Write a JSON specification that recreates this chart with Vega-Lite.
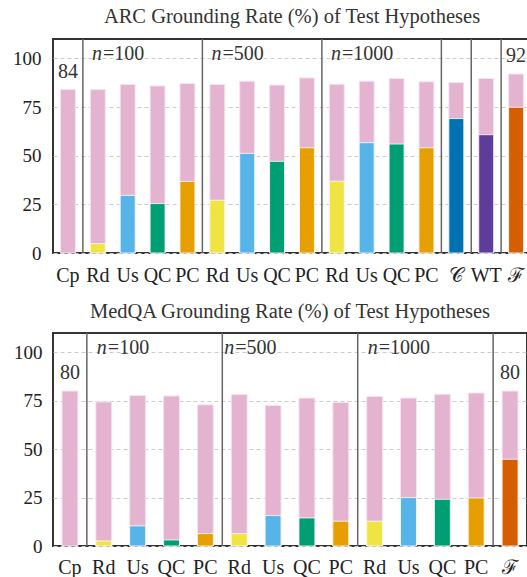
{
  "$schema": "https://vega.github.io/schema/vega-lite/v6.json",
  "padding": {"left": 8, "top": 5, "right": 0, "bottom": 4},
  "spacing": 14,
  "config": {
    "font": "Liberation Serif",
    "view": {"stroke": "#333333", "strokeWidth": 2},
    "title": {"fontSize": 20.5, "fontWeight": "normal", "color": "#333333", "offset": 11, "anchor": "middle"},
    "axis": {"labelFont": "Liberation Serif", "labelColor": "#222222", "domain": false, "ticks": false}
  },
  "vconcat": [
    {
      "title": "ARC Grounding Rate (%) of Test Hypotheses",
      "width": 478,
      "height": 214,
      "data": {"values": [
        {"id": "01|Cp", "m": "Cp", "total": 84, "grounded": null},
        {"id": "02|Rd", "m": "Rd", "total": 84, "grounded": 4.8},
        {"id": "03|Us", "m": "Us", "total": 86.6, "grounded": 29.6},
        {"id": "04|QC", "m": "QC", "total": 85.9, "grounded": 25.4},
        {"id": "05|PC", "m": "PC", "total": 87.1, "grounded": 36.8},
        {"id": "06|Rd", "m": "Rd", "total": 86.6, "grounded": 27.1},
        {"id": "07|Us", "m": "Us", "total": 88.3, "grounded": 51.2},
        {"id": "08|QC", "m": "QC", "total": 86.3, "grounded": 47.1},
        {"id": "09|PC", "m": "PC", "total": 90, "grounded": 54.1},
        {"id": "10|Rd", "m": "Rd", "total": 86.8, "grounded": 36.9},
        {"id": "11|Us", "m": "Us", "total": 88.3, "grounded": 56.7},
        {"id": "12|QC", "m": "QC", "total": 89.7, "grounded": 56},
        {"id": "13|PC", "m": "PC", "total": 88, "grounded": 54.1},
        {"id": "14|𝒞", "m": "C", "total": 87.6, "grounded": 69.1},
        {"id": "15|WT", "m": "WT", "total": 89.7, "grounded": 60.8},
        {"id": "16|ℱ", "m": "F", "total": 92, "grounded": 74.9}
      ]},
      "layer": [
        {
          "mark": {"type": "bar", "color": "#e3b3d0", "stroke": "#f7e4ef", "strokeWidth": 1, "width": {"band": 0.5}},
          "encoding": {
            "x": {"field": "id", "type": "ordinal", "scale": {"paddingInner": 0, "paddingOuter": 0},
                  "axis": {"title": null, "labelAngle": 0, "labelExpr": "split(datum.value,'|')[1]", "labelFontSize": 20, "labelPadding": 12}},
            "y": {"field": "total", "type": "quantitative", "scale": {"domain": [0, 110], "nice": false},
                  "axis": {"title": null, "values": [0, 25, 50, 75, 100], "grid": true, "gridDash": [4, 3], "gridColor": "#cccccc",
                           "labelFontSize": 19, "labelPadding": 12, "minExtent": 40, "maxExtent": 40}}
          }
        },
        {
          "transform": [{"filter": "datum.grounded != null"}],
          "mark": {"type": "bar", "stroke": "#ffffff", "strokeWidth": 1, "strokeOpacity": 0.8, "width": {"band": 0.5}},
          "encoding": {
            "x": {"field": "id", "type": "ordinal"},
            "y": {"field": "grounded", "type": "quantitative"},
            "color": {"field": "m", "type": "nominal", "legend": null,
                      "scale": {"domain": ["Rd", "Us", "QC", "PC", "C", "WT", "F"],
                                "range": ["#f0e442", "#56b4e9", "#009e73", "#e69f00", "#0072b2", "#5e3c99", "#d55e00"]}}
          }
        },
        {
          "transform": [{"filter": "datum.m == 'Cp' || datum.m == 'F'"}],
          "mark": {"type": "text", "fontSize": 20, "color": "#333333", "baseline": "alphabetic", "dy": -12},
          "encoding": {
            "x": {"field": "id", "type": "ordinal"},
            "y": {"field": "total", "type": "quantitative"},
            "text": {"field": "total", "type": "quantitative", "format": "d"}
          }
        },
        {
          "data": {"values": [{"id": "02|Rd"}, {"id": "06|Rd"}, {"id": "10|Rd"}, {"id": "14|𝒞"}, {"id": "15|WT"}, {"id": "16|ℱ"}]},
          "mark": {"type": "rule", "color": "#666666", "strokeWidth": 1.5},
          "encoding": {"x": {"field": "id", "type": "ordinal", "bandPosition": 0}}
        },
        {
          "data": {"values": [{"id": "02|Rd", "n": "=100"}, {"id": "06|Rd", "n": "=500"}, {"id": "10|Rd", "n": "=1000"}]},
          "layer": [
            {
              "mark": {"type": "text", "fontSize": 20, "fontStyle": "italic", "color": "#333333", "align": "left", "baseline": "middle", "dx": 9},
              "encoding": {"x": {"field": "id", "type": "ordinal", "bandPosition": 0}, "y": {"datum": 102.5}, "text": {"value": "n"}}
            },
            {
              "mark": {"type": "text", "fontSize": 20, "color": "#333333", "align": "left", "baseline": "middle", "dx": 20},
              "encoding": {"x": {"field": "id", "type": "ordinal", "bandPosition": 0}, "y": {"datum": 102.5}, "text": {"field": "n"}}
            }
          ]
        }
      ]
    },
    {
      "title": {"text": "MedQA Grounding Rate (%) of Test Hypotheses", "offset": 10},
      "width": 474,
      "height": 213,
      "data": {"values": [
        {"id": "01|Cp", "m": "Cp", "total": 80, "grounded": null},
        {"id": "02|Rd", "m": "Rd", "total": 74.4, "grounded": 2.6},
        {"id": "03|Us", "m": "Us", "total": 77.7, "grounded": 10.4},
        {"id": "04|QC", "m": "QC", "total": 77.5, "grounded": 3.1},
        {"id": "05|PC", "m": "PC", "total": 72.9, "grounded": 6.4},
        {"id": "06|Rd", "m": "Rd", "total": 78.2, "grounded": 6.4},
        {"id": "07|Us", "m": "Us", "total": 72.6, "grounded": 15.7},
        {"id": "08|QC", "m": "QC", "total": 76.4, "grounded": 14.5},
        {"id": "09|PC", "m": "PC", "total": 74.1, "grounded": 12.8},
        {"id": "10|Rd", "m": "Rd", "total": 77.2, "grounded": 12.8},
        {"id": "11|Us", "m": "Us", "total": 76.4, "grounded": 25},
        {"id": "12|QC", "m": "QC", "total": 78.4, "grounded": 24.1},
        {"id": "13|PC", "m": "PC", "total": 79, "grounded": 24.8},
        {"id": "14|ℱ", "m": "F", "total": 80, "grounded": 44.8}
      ]},
      "layer": [
        {
          "mark": {"type": "bar", "color": "#e3b3d0", "stroke": "#f7e4ef", "strokeWidth": 1, "width": {"band": 0.47}},
          "encoding": {
            "x": {"field": "id", "type": "ordinal", "scale": {"paddingInner": 0, "paddingOuter": 0},
                  "axis": {"title": null, "labelAngle": 0, "labelExpr": "split(datum.value,'|')[1]", "labelFontSize": 20, "labelPadding": 11}},
            "y": {"field": "total", "type": "quantitative", "scale": {"domain": [0, 110], "nice": false},
                  "axis": {"title": null, "values": [0, 25, 50, 75, 100], "grid": true, "gridDash": [4, 3], "gridColor": "#cccccc",
                           "labelFontSize": 19, "labelPadding": 11, "minExtent": 44, "maxExtent": 44}}
          }
        },
        {
          "transform": [{"filter": "datum.grounded != null"}],
          "mark": {"type": "bar", "stroke": "#ffffff", "strokeWidth": 1, "strokeOpacity": 0.8, "width": {"band": 0.47}},
          "encoding": {
            "x": {"field": "id", "type": "ordinal"},
            "y": {"field": "grounded", "type": "quantitative"},
            "color": {"field": "m", "type": "nominal", "legend": null,
                      "scale": {"domain": ["Rd", "Us", "QC", "PC", "F"],
                                "range": ["#f0e442", "#56b4e9", "#009e73", "#e69f00", "#d55e00"]}}
          }
        },
        {
          "transform": [{"filter": "datum.m == 'Cp' || datum.m == 'F'"}],
          "mark": {"type": "text", "fontSize": 20, "color": "#333333", "baseline": "alphabetic", "dy": -12},
          "encoding": {
            "x": {"field": "id", "type": "ordinal"},
            "y": {"field": "total", "type": "quantitative"},
            "text": {"field": "total", "type": "quantitative", "format": "d"}
          }
        },
        {
          "data": {"values": [{"id": "02|Rd"}, {"id": "06|Rd"}, {"id": "10|Rd"}, {"id": "14|ℱ"}]},
          "mark": {"type": "rule", "color": "#666666", "strokeWidth": 1.5},
          "encoding": {"x": {"field": "id", "type": "ordinal", "bandPosition": 0}}
        },
        {
          "data": {"values": [{"id": "02|Rd", "n": "=100", "grp": "a"}, {"id": "06|Rd", "n": "=500", "grp": "b"}, {"id": "10|Rd", "n": "=1000", "grp": "a"}]},
          "layer": [
            {
              "transform": [{"filter": "datum.grp == 'a'"}],
              "layer": [
                {
                  "mark": {"type": "text", "fontSize": 20, "fontStyle": "italic", "color": "#333333", "align": "left", "baseline": "middle", "dx": 10},
                  "encoding": {"x": {"field": "id", "type": "ordinal", "bandPosition": 0}, "y": {"datum": 102.5}, "text": {"value": "n"}}
                },
                {
                  "mark": {"type": "text", "fontSize": 20, "color": "#333333", "align": "left", "baseline": "middle", "dx": 21},
                  "encoding": {"x": {"field": "id", "type": "ordinal", "bandPosition": 0}, "y": {"datum": 102.5}, "text": {"field": "n"}}
                }
              ]
            },
            {
              "transform": [{"filter": "datum.grp == 'b'"}],
              "layer": [
                {
                  "mark": {"type": "text", "fontSize": 20, "fontStyle": "italic", "color": "#333333", "align": "left", "baseline": "middle", "dx": 2},
                  "encoding": {"x": {"field": "id", "type": "ordinal", "bandPosition": 0}, "y": {"datum": 102.5}, "text": {"value": "n"}}
                },
                {
                  "mark": {"type": "text", "fontSize": 20, "color": "#333333", "align": "left", "baseline": "middle", "dx": 13},
                  "encoding": {"x": {"field": "id", "type": "ordinal", "bandPosition": 0}, "y": {"datum": 102.5}, "text": {"field": "n"}}
                }
              ]
            }
          ]
        }
      ]
    }
  ]
}
